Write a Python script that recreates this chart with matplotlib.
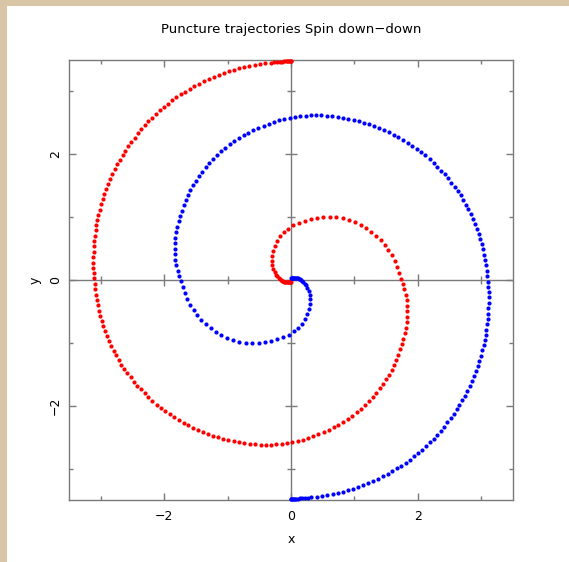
import numpy as np
import matplotlib
matplotlib.use("Agg")
import matplotlib.pyplot as plt
from matplotlib.patches import Rectangle

# orbital phase (deg) and distance from the origin of puncture 1, one entry per output step
phase_deg = [
    90.0, 90.1, 90.25, 90.45, 90.7, 91.0, 91.35, 91.8, 92.3, 92.9, 93.6, 94.4, 95.3,
    96.7, 98.1, 99.5, 100.9, 102.3, 103.7, 105.1, 106.5, 107.9, 109.3,
    110.7, 112.1, 113.5, 114.9, 116.3, 117.7, 119.1, 120.5, 121.9, 123.3, 124.7,
    126.1, 127.5, 128.9, 130.3, 131.7, 133.1, 134.6, 136.0, 137.4, 138.9, 140.3,
    141.8, 143.2, 144.7, 146.1, 147.6, 149.1, 150.6, 152.1, 153.6, 155.1, 156.6,
    158.1, 159.6, 161.1, 162.6, 164.1, 165.6, 167.2, 168.7, 170.2, 171.8, 173.3,
    174.9, 176.4, 178.0, 179.5,
    181.1, 182.7, 184.3, 185.9, 187.5, 189.1, 190.7, 192.3, 193.9, 195.5, 197.1,
    198.7, 200.3, 201.9, 203.5, 205.1, 206.7, 208.3, 209.9, 211.5, 213.1, 214.7,
    216.3, 218.0, 219.7, 221.4, 223.1, 224.8, 226.5, 228.2, 229.9, 231.6, 233.3,
    235.0, 236.7, 238.4, 240.1, 241.8, 243.5, 245.2, 247.0, 248.8, 250.6, 252.4,
    254.2, 256.0, 257.8, 259.6, 261.4, 263.2, 265.0, 266.8, 268.6, 270.5,
    272.4, 274.3, 276.2, 278.1, 280.0, 282.0, 284.0, 286.0, 288.0, 290.0, 292.0,
    294.1, 296.2, 298.3, 300.4, 302.5, 304.7, 306.9, 309.1, 311.3, 313.5, 315.8,
    318.1, 320.4, 322.7, 325.0, 327.4, 329.8, 332.2, 334.7, 337.2, 339.7, 342.2,
    344.8, 347.4, 350.0, 352.6, 355.3, 358.0, 360.7,
    363.9, 367.2, 370.5, 373.8, 377.2, 380.6, 384.1, 387.7, 391.3, 394.9, 398.6,
    402.4, 406.3, 410.3, 414.4, 418.6, 423.0, 427.6, 432.3, 437.2, 442.3, 447.6,
    453.1,
    458.4, 463.9, 469.5, 475.3, 481.4, 487.8, 494.5, 501.6, 508.8, 515.0, 520.5,
    525.5, 530.0, 534.5, 539.0, 543.5, 548.0, 553.0, 558.0, 563.0, 569.0, 575.0,
    582.0, 590.0, 599.0, 609.0, 619.0,
]
radius = [
    3.480, 3.480, 3.480, 3.480, 3.479, 3.479, 3.479, 3.478, 3.478, 3.477, 3.476, 3.476, 3.475,
    3.473, 3.472, 3.471, 3.469, 3.467, 3.464, 3.462, 3.460, 3.458, 3.456,
    3.454, 3.450, 3.446, 3.443, 3.439, 3.436, 3.432, 3.428, 3.422, 3.417, 3.411,
    3.406, 3.400, 3.394, 3.388, 3.381, 3.373, 3.365, 3.357, 3.349, 3.341, 3.333,
    3.324, 3.316, 3.307, 3.298, 3.289, 3.280, 3.271, 3.262, 3.253, 3.244, 3.235,
    3.226, 3.217, 3.208, 3.199, 3.190, 3.181, 3.172, 3.163, 3.154, 3.145, 3.137,
    3.128, 3.120, 3.111, 3.103,
    3.096, 3.091, 3.085, 3.079, 3.074, 3.068, 3.062, 3.056, 3.049, 3.043, 3.037,
    3.030, 3.024, 3.016, 3.008, 3.000, 2.992, 2.984, 2.976, 2.967, 2.958, 2.949,
    2.940, 2.931, 2.922, 2.911, 2.900, 2.889, 2.878, 2.867, 2.856, 2.845, 2.834,
    2.823, 2.811, 2.800, 2.789, 2.778, 2.767, 2.756, 2.745, 2.733, 2.721, 2.709,
    2.698, 2.686, 2.674, 2.663, 2.650, 2.638, 2.625, 2.612, 2.600, 2.585,
    2.567, 2.549, 2.531, 2.513, 2.495, 2.476, 2.457, 2.438, 2.419, 2.400, 2.382,
    2.363, 2.344, 2.325, 2.306, 2.286, 2.265, 2.245, 2.224, 2.202, 2.180, 2.157,
    2.134, 2.111, 2.089, 2.067, 2.045, 2.022, 2.002, 1.982, 1.962, 1.942, 1.920,
    1.897, 1.873, 1.850, 1.823, 1.795, 1.766, 1.738,
    1.713, 1.687, 1.661, 1.635, 1.607, 1.579, 1.546, 1.512, 1.477, 1.441, 1.404,
    1.364, 1.321, 1.276, 1.227, 1.177, 1.126, 1.073, 1.021, 0.969, 0.919, 0.872,
    0.819,
    0.766, 0.713, 0.660, 0.605, 0.547, 0.490, 0.434, 0.378, 0.324, 0.283, 0.248,
    0.223, 0.200, 0.182, 0.164, 0.148, 0.132, 0.116, 0.101, 0.088, 0.074, 0.063,
    0.053, 0.043, 0.036, 0.031, 0.027,
]

major_ticks = [-2, 0, 2]
minor_ticks = [-3, -1, 1, 3]
frame_grey = "#7a7a7a"

phi = np.radians(phase_deg)
r = np.array(radius)
x1, y1 = r * np.cos(phi), r * np.sin(phi)
# equal masses: the second puncture sits on the opposite side of the origin
x2, y2 = -x1, -y1

fig = plt.figure(figsize=(5.69, 5.62), dpi=100)
fig.patch.set_facecolor("#d9c6a6")
fig.patches.append(Rectangle((7 / 569, 0), 1, 556 / 562, transform=fig.transFigure,
                             facecolor="white", edgecolor="none", zorder=-5))

ax = fig.add_axes([69 / 569, 1 - 500 / 562, 444 / 569, 440 / 562])
ax.set_zorder(1)
ax.set_xlim(-3.5, 3.5)
ax.set_ylim(-3.5, 3.5)

ax.axhline(0, color=frame_grey, lw=1.0, zorder=1)
ax.axvline(0, color=frame_grey, lw=1.0, zorder=1)
# ticks crossing the zero axes
ax.plot(major_ticks, [0] * len(major_ticks), ls="none", marker="|", ms=8.5, mew=1.0, color=frame_grey, zorder=1)
ax.plot(minor_ticks, [0] * len(minor_ticks), ls="none", marker="|", ms=6, mew=1.0, color=frame_grey, zorder=1)
ax.plot([0] * len(major_ticks), major_ticks, ls="none", marker="_", ms=8.5, mew=1.0, color=frame_grey, zorder=1)
ax.plot([0] * len(minor_ticks), minor_ticks, ls="none", marker="_", ms=6, mew=1.0, color=frame_grey, zorder=1)

ax.plot(x1, y1, ls="none", marker="o", ms=3.0, mew=0, color="#ff0000", zorder=3, clip_on=False)
ax.plot(x2, y2, ls="none", marker="o", ms=3.0, mew=0, color="#0000ff", zorder=3, clip_on=False)

for s in ax.spines.values():
    s.set_color(frame_grey)
    s.set_linewidth(1.0)

ax.set_xticks(major_ticks)
ax.set_yticks(major_ticks)
ax.set_xticks(minor_ticks, minor=True)
ax.set_yticks(minor_ticks, minor=True)
ax.set_xticklabels(["\u22122", "0", "2"])
ax.set_yticklabels(["\u22122", "0", "2"], rotation=90, va="center")
ax.tick_params(which="both", direction="in", top=True, right=True, color=frame_grey, width=1.0,
               labelsize=9, labelcolor="black")
ax.tick_params(which="major", length=5)
ax.tick_params(which="minor", length=3)
ax.tick_params(axis="x", pad=7)
ax.tick_params(axis="y", pad=5)

ax.set_xlabel("x", fontsize=9)
ax.set_ylabel("y", fontsize=9)
ax.xaxis.set_label_coords(0.5, -0.075)
ax.yaxis.set_label_coords(-0.062, 0.5)
ax.set_title("Puncture trajectories Spin down\u2212down", fontsize=9.5, pad=19.5)

fig.savefig("out.png", dpi=100)
